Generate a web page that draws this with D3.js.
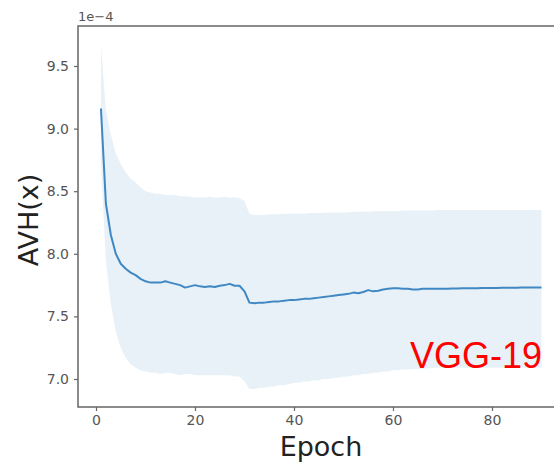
<!DOCTYPE html>
<meta charset="utf-8">
<title>AVH(x) - VGG-19</title>
<style>
body { margin: 0; background: #fff; }
.tick text { font-family: "DejaVu Sans", sans-serif; font-size: 14px; fill: #555; }
.tick line { stroke: #666; stroke-width: 1.2; }
</style>
<script src="https://d3js.org/d3.v7.min.js"></script>
<body>
<script>
var width = 554, height = 463;

// mean AVH per epoch (x 1e-4)
var avhMean = [9.16, 8.40, 8.15, 8.00, 7.92, 7.88, 7.85, 7.83, 7.80, 7.78,
  7.77, 7.77, 7.77, 7.78, 7.77, 7.76, 7.75, 7.73, 7.74, 7.75,
  7.74, 7.735, 7.74, 7.735, 7.745, 7.75, 7.76, 7.745, 7.745, 7.70,
  7.61, 7.605, 7.61, 7.61, 7.615, 7.62, 7.62, 7.625, 7.63, 7.63,
  7.635, 7.64, 7.64, 7.645, 7.65, 7.655, 7.66, 7.665, 7.67, 7.675,
  7.68, 7.69, 7.685, 7.695, 7.71, 7.70, 7.705, 7.715, 7.72, 7.725,
  7.725, 7.72, 7.72, 7.715, 7.715, 7.72, 7.72, 7.72, 7.72, 7.72,
  7.72, 7.722, 7.722, 7.724, 7.724, 7.725, 7.725, 7.726, 7.726, 7.727,
  7.727, 7.728, 7.728, 7.729, 7.729, 7.73, 7.73, 7.73, 7.73, 7.73];
var avhUpper = [9.67, 9.15, 8.95, 8.80, 8.72, 8.65, 8.60, 8.57, 8.53, 8.50,
  8.49, 8.48, 8.48, 8.47, 8.47, 8.47, 8.46, 8.46, 8.455, 8.45,
  8.45, 8.45, 8.455, 8.45, 8.45, 8.455, 8.45, 8.45, 8.445, 8.42,
  8.32, 8.31, 8.31, 8.31, 8.315, 8.315, 8.315, 8.32, 8.32, 8.32,
  8.32, 8.32, 8.325, 8.325, 8.325, 8.325, 8.33, 8.33, 8.33, 8.33,
  8.33, 8.335, 8.335, 8.335, 8.335, 8.34, 8.34, 8.34, 8.34, 8.34,
  8.34, 8.345, 8.345, 8.345, 8.345, 8.345, 8.345, 8.345, 8.35, 8.35,
  8.35, 8.35, 8.35, 8.35, 8.35, 8.35, 8.35, 8.35, 8.35, 8.35,
  8.35, 8.35, 8.35, 8.35, 8.35, 8.35, 8.35, 8.35, 8.35, 8.35];
var avhLower = [8.70, 7.95, 7.60, 7.38, 7.25, 7.17, 7.12, 7.09, 7.07, 7.06,
  7.05, 7.05, 7.04, 7.05, 7.05, 7.04, 7.03, 7.04, 7.04, 7.03,
  7.03, 7.03, 7.03, 7.03, 7.03, 7.03, 7.03, 7.02, 7.02, 6.98,
  6.92, 6.92, 6.93, 6.93, 6.94, 6.94, 6.95, 6.95, 6.96, 6.97,
  6.97, 6.98, 6.98, 6.99, 6.99, 7.00, 7.00, 7.01, 7.01, 7.02,
  7.02, 7.03, 7.03, 7.04, 7.04, 7.05, 7.05, 7.06, 7.06, 7.07,
  7.07, 7.075, 7.075, 7.08, 7.08, 7.08, 7.085, 7.085, 7.09, 7.09,
  7.09, 7.09, 7.09, 7.09, 7.09, 7.09, 7.09, 7.09, 7.09, 7.09,
  7.09, 7.09, 7.09, 7.09, 7.09, 7.09, 7.09, 7.09, 7.09, 7.09];
var epochs = d3.range(1, avhMean.length + 1);

var xTicks = [0, 20, 40, 60, 80];
var yTicks = [7.0, 7.5, 8.0, 8.5, 9.0, 9.5];

var svg = d3.select("body").append("svg")
    .attr("width", width)
    .attr("height", height);

// axes box: left 78, top 26, bottom 407 (right edge runs off the picture)
var x = d3.scaleLinear().domain([0, 80]).range([96, 492]);
var y = d3.scaleLinear().domain([7.0, 9.5]).range([379, 66]);
var boxTop = 26, boxBottom = 407, boxLeft = 78;

var rows = epochs.map(function(e, i) {
  return {e: e, m: avhMean[i], lo: avhLower[i], hi: avhUpper[i]};
});

svg.append("path")
    .datum(rows)
    .attr("fill", "rgb(31,119,180)")
    .attr("fill-opacity", 0.1)
    .attr("d", d3.area()
      .x(function(d) { return x(d.e); })
      .y0(function(d) { return y(d.lo); })
      .y1(function(d) { return y(d.hi); }));

svg.append("path")
    .datum(rows)
    .attr("fill", "none")
    .attr("stroke", "#3f88c3")
    .attr("stroke-width", 2)
    .attr("stroke-linejoin", "round")
    .attr("d", d3.line()
      .x(function(d) { return x(d.e); })
      .y(function(d) { return y(d.m); }));

// frame
svg.append("path")
    .attr("d", "M" + (width + 2) + "," + boxTop + "H" + boxLeft + "V" + boxBottom + "H" + (width + 2))
    .attr("fill", "none")
    .attr("stroke", "#666")
    .attr("stroke-width", 1.5);

svg.append("g")
    .attr("transform", "translate(0," + boxBottom + ")")
    .call(d3.axisBottom(x).tickValues(xTicks).tickSize(4).tickPadding(4))
    .call(function(g) { g.select(".domain").remove(); });

svg.append("g")
    .attr("transform", "translate(" + boxLeft + ",0)")
    .call(d3.axisLeft(y).tickValues(yTicks).tickSize(4).tickPadding(5).tickFormat(d3.format(".1f")))
    .call(function(g) { g.select(".domain").remove(); });

svg.append("text")
    .attr("x", boxLeft)
    .attr("y", 21)
    .attr("font-family", "DejaVu Sans, sans-serif")
    .attr("font-size", 13)
    .attr("fill", "#555")
    .text("1e\u22124");

svg.append("text")
    .attr("transform", "translate(38,220) rotate(-90)")
    .attr("text-anchor", "middle")
    .attr("font-family", "DejaVu Sans, sans-serif")
    .attr("font-size", 27)
    .attr("fill", "#222")
    .text("AVH(x)");

svg.append("text")
    .attr("x", 321)
    .attr("y", 456)
    .attr("text-anchor", "middle")
    .attr("font-family", "DejaVu Sans, sans-serif")
    .attr("font-size", 27)
    .attr("fill", "#222")
    .text("Epoch");

svg.append("text")
    .attr("x", 542)
    .attr("y", 368)
    .attr("text-anchor", "end")
    .attr("font-family", "Liberation Sans, Arial, sans-serif")
    .attr("font-size", 36)
    .attr("fill", "#ff0000")
    .text("VGG-19");
</script>
